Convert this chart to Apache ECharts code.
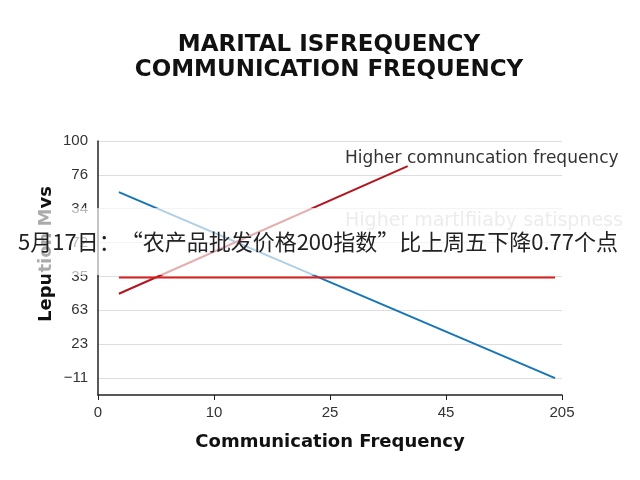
<!DOCTYPE html>
<html>
<head>
<meta charset="utf-8">
<script src="https://cdn.jsdelivr.net/npm/echarts@6/dist/echarts.min.js"></script>
<style>
  html, body { margin: 0; padding: 0; background: #fff; }
  #chart-container { width: 640px; height: 480px; }
</style>
</head>
<body>
<div id="chart-container"></div>
<script>
// tick labels (positions 0..n along each axis)
var xLabels = ["0", "10", "25", "45", "205"];
var yLabels = ["\u221211", "23", "63", "35", "72", "34", "76", "100"];

// lines in axis units [x position, y position]
var blueLine = [[0.18, 5.49], [3.94, 0.0]];
var redRising = [[0.18, 2.49], [2.67, 6.26]];
var redFlat = [[0.18, 2.97], [3.94, 2.97]];

var titleText = "MARITAL ISFREQUENCY\nCOMMUNICATION FREQUENCY";
var yTitle = "Lepution Mvs";
var note1 = "Higher comnuncation frequency";
var note2 = "Higher martlfiiaby satispness";
var banner = "5月17日：“农产品批发价格200指数”比上周五下降0.77个点";

var dom = document.getElementById("chart-container");
var myChart = echarts.init(dom, null, { renderer: "canvas" });

var option = {
  backgroundColor: "#fff",
  animation: false,
  title: {
    text: titleText,
    left: 324,
    textAlign: "center",
    top: 28,
    textStyle: {
      fontFamily: "DejaVu Sans",
      fontWeight: "bold",
      fontSize: 23,
      lineHeight: 25,
      color: "#111",
    },
  },
  grid: {
    left: 98,
    right: 78,
    top: 141,
    bottom: 85,
  },
  xAxis: {
    type: "value",
    min: 0,
    max: 4,
    interval: 1,
    name: "Communication Frequency",
    nameLocation: "middle",
    nameGap: 38,
    nameTextStyle: {
      fontFamily: "DejaVu Sans",
      fontWeight: "bold",
      fontSize: 18,
      color: "#111",
    },
    axisLine: { onZero: false, lineStyle: { color: "#222", width: 1.5 } },
    axisTick: { show: true, length: 5, lineStyle: { color: "#222" } },
    splitLine: { show: false },
    axisLabel: {
      margin: 10,
      fontFamily: "Liberation Sans",
      fontSize: 15,
      color: "#333",
      formatter: function (v) {
        return xLabels[v] || "";
      },
    },
  },
  yAxis: {
    type: "value",
    min: -0.5,
    max: 7,
    interval: 0.5,
    axisLine: { show: true, onZero: false, lineStyle: { color: "#222", width: 1.5 } },
    axisTick: { show: false },
    splitLine: {
      show: true,
      lineStyle: { color: ["rgba(0,0,0,0)", "#dedede"], width: 1 },
    },
    axisLabel: {
      margin: 10,
      fontFamily: "Liberation Sans",
      fontSize: 15,
      color: "#333",
      formatter: function (v) {
        return Number.isInteger(v) ? yLabels[v] : "";
      },
    },
  },
  series: [
    {
      name: "blue",
      type: "line",
      data: blueLine,
      symbol: "none",
      lineStyle: { color: "#1775b8", width: 2 },
    },
    {
      name: "red rising",
      type: "line",
      data: redRising,
      symbol: "none",
      lineStyle: { color: "#b3161f", width: 2 },
    },
    {
      name: "red flat",
      type: "line",
      data: redFlat,
      symbol: "none",
      lineStyle: { color: "#d81e1e", width: 1.8 },
    },
  ],
  graphic: [
    {
      type: "text",
      x: 46,
      y: 254,
      rotation: Math.PI / 2,
      style: {
        text: yTitle,
        font: "bold 18px 'DejaVu Sans'",
        fill: "#111",
        align: "center",
        verticalAlign: "middle",
      },
    },
    {
      type: "text",
      left: 345,
      top: 150,
      style: {
        text: note1,
        font: "17px 'DejaVu Sans'",
        fill: "#333",
      },
    },
    {
      type: "text",
      left: 345,
      top: 212,
      style: {
        text: note2,
        font: "19px 'DejaVu Sans'",
        fill: "#c8c8c8",
      },
    },
    {
      type: "rect",
      z: 100,
      shape: { x: 0, y: 208, width: 640, height: 67 },
      style: { fill: "rgba(255,255,255,0.65)" },
    },
    {
      type: "text",
      z: 101,
      left: 18,
      top: 231,
      style: {
        text: banner,
        font: "22px 'Noto Sans CJK SC'",
        fill: "#222",
      },
    },
  ],
};

myChart.setOption(option);
window.addEventListener("resize", myChart.resize);
</script>
</body>
</html>
